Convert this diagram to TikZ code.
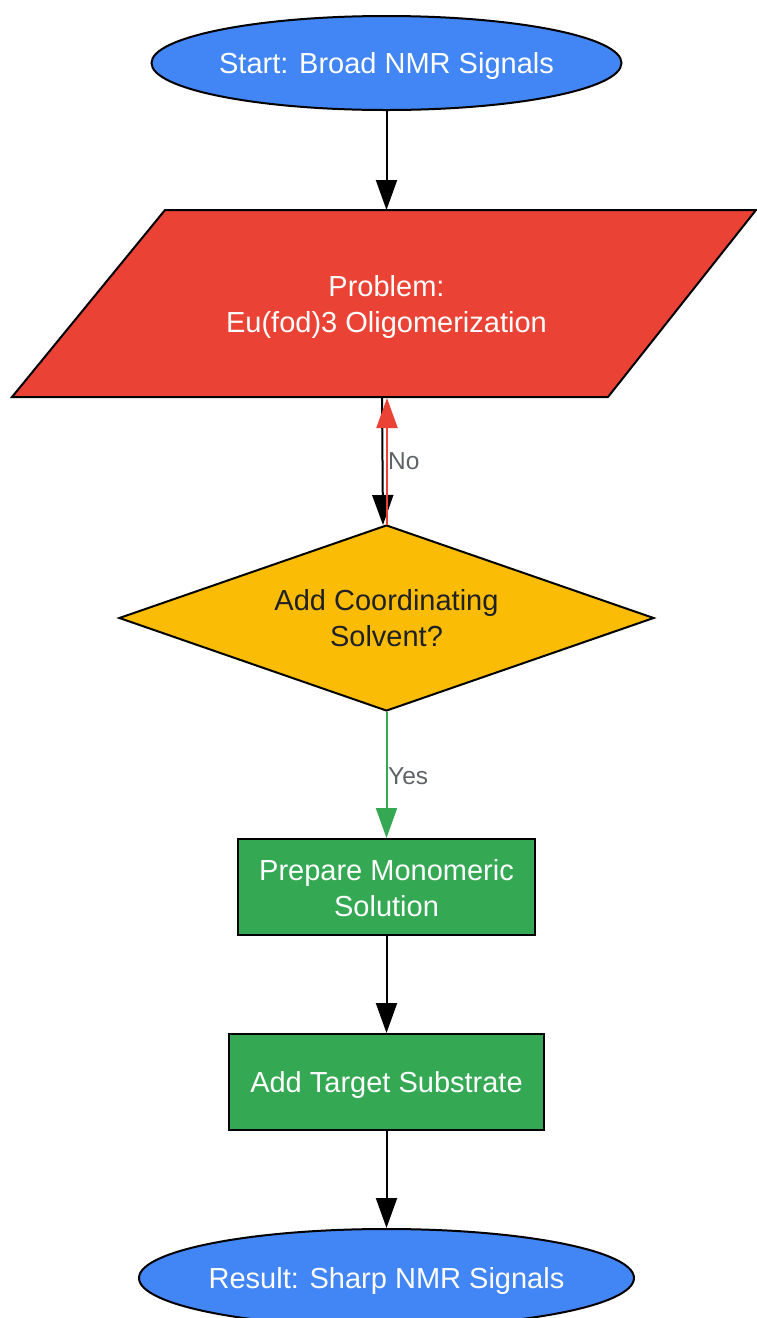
\documentclass[tikz,border=0pt]{standalone}
\usepackage{fontspec}
\setmainfont{Liberation Sans}
\usetikzlibrary{shapes.geometric,arrows.meta}
\definecolor{gblue}{HTML}{4285F4}
\definecolor{gred}{HTML}{EA4335}
\definecolor{gyellow}{HTML}{FBBC05}
\definecolor{ggreen}{HTML}{34A853}
\definecolor{lblgray}{HTML}{5F6368}
\definecolor{darktxt}{HTML}{202124}
\tikzset{
  bigfont/.style={font=\fontsize{29}{36}\selectfont},
  term/.style={ellipse, draw=black, line width=2pt, fill=gblue, inner sep=0pt},
  wtxt/.style={text=white, bigfont, align=center, yshift=-3pt},
  procbox/.style={rectangle, draw=black, line width=2pt, fill=ggreen, inner sep=0pt},
  decbox/.style={diamond, aspect=2.88, draw=black, line width=2pt, fill=gyellow, text=darktxt, bigfont, align=center, inner sep=0pt},
  conn/.style={line width=2pt, -{Triangle[length=30pt,width=21pt]}},
  edgelbl/.style={text=lblgray, font=\fontsize{24.5}{28}\selectfont, anchor=west, inner sep=0pt}
}
\begin{document}
\begin{tikzpicture}[x=1pt,y=-1pt]
\useasboundingbox (0,0) rectangle (756,1318);
% start
\node[term, minimum width=470pt, minimum height=94pt, label={[wtxt]center:Start: Broad NMR Signals}] (start) at (386.5,63) {};
% problem parallelogram
\path[draw=black, line width=2pt, fill=gred] (165,210) -- (756,210) -- (608,397) -- (12,397) -- cycle;
\node[wtxt] (prob) at (386.5,304) {Problem:\\Eu(fod)3 Oligomerization};
\coordinate (probtop) at (386.5,210);
\coordinate (probbotL) at (382,397);
\coordinate (probbotR) at (387,398);
% decision
\node[decbox, minimum width=535pt, minimum height=186pt] (dec) at (386.5,618) {Add Coordinating\\Solvent?};
\coordinate (dectopL) at (383,525);
\coordinate (dectopR) at (387,525);
% process boxes
\node[procbox, minimum width=297pt, minimum height=96pt, label={[wtxt, yshift=2pt]center:Prepare Monomeric\\Solution}] (prep) at (386.5,887) {};
\node[procbox, minimum width=315pt, minimum height=96pt, label={[wtxt]center:Add Target Substrate}] (addt) at (386.5,1082) {};
% result
\node[term, minimum width=495pt, minimum height=98pt, label={[wtxt]center:Result: Sharp NMR Signals}] (res) at (386.5,1278) {};
% connectors
\draw[conn] (start.south) -- (probtop);
\draw[conn] (probbotL) -- (dectopL);
\draw[conn, draw=gred, fill=gred] (dectopR) -- (probbotR);
\node[edgelbl] (nolbl) at (388,461) {No};
\draw[conn, draw=ggreen, fill=ggreen] (dec.south) -- (prep.north);
\node[edgelbl] (yeslbl) at (388,776) {Yes};
\draw[conn] (prep.south) -- (addt.north);
\draw[conn] (addt.south) -- (res.north);
\end{tikzpicture}
\end{document}
